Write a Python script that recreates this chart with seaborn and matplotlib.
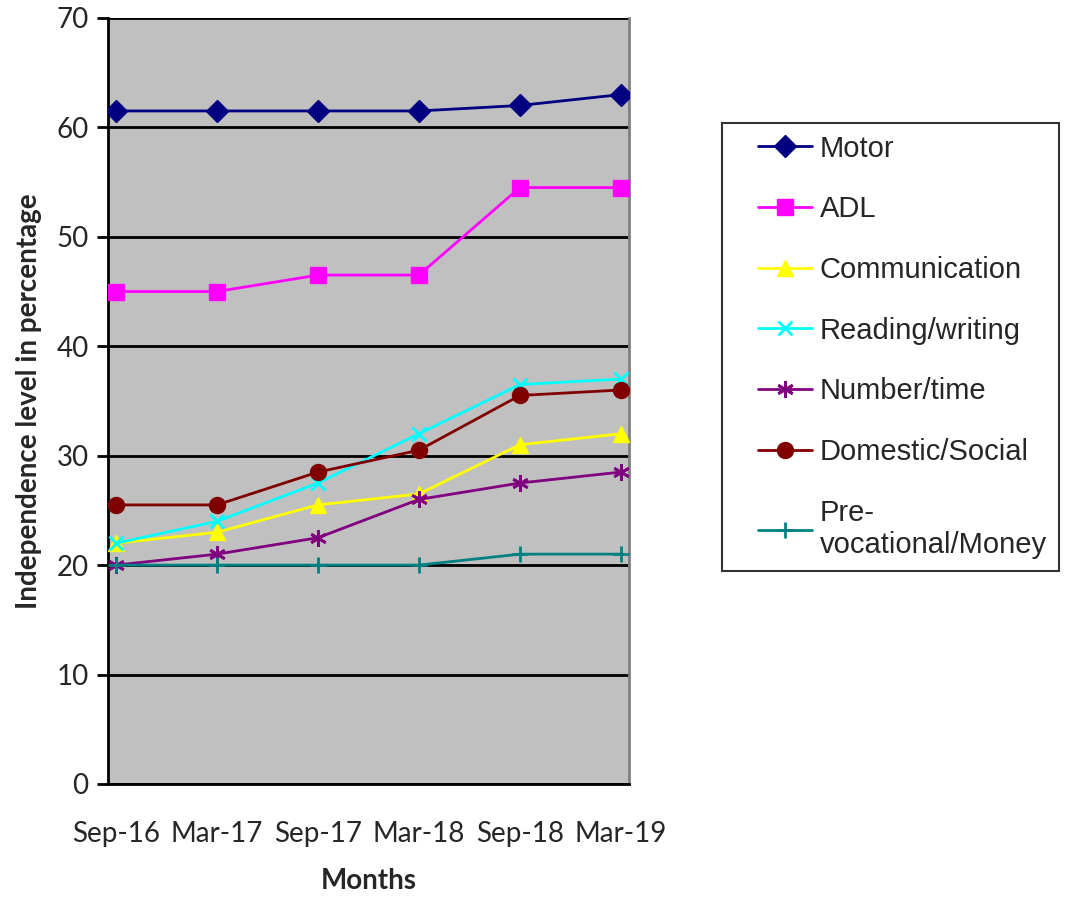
import numpy as np
import pandas as pd
import matplotlib
matplotlib.use("Agg")
import matplotlib.pyplot as plt
from matplotlib.lines import Line2D
from matplotlib.legend_handler import HandlerLine2D
import seaborn as sns

months = ["Sep-16", "Mar-17", "Sep-17", "Mar-18", "Sep-18", "Mar-19"]
motor = [61.5, 61.5, 61.5, 61.5, 62, 63]
adl = [45, 45, 46.5, 46.5, 54.5, 54.5]
communication = [22, 23, 25.5, 26.5, 31, 32]
reading = [22, 24, 27.5, 32, 36.5, 37]
number = [20, 21, 22.5, 26, 27.5, 28.5]
domestic = [25.5, 25.5, 28.5, 30.5, 35.5, 36]
prevoc = [20, 20, 20, 20, 21, 21]

names = ["Motor", "ADL", "Communication", "Reading/writing", "Number/time",
         "Domestic/Social", "Pre-\nvocational/Money"]
series = [motor, adl, communication, reading, number, domestic, prevoc]
colors = ["#000080", "#FF00FF", "#FFFF00", "#00FFFF", "#800080", "#800000", "#008080"]
marks = ["D", "s", "^", "x", (6, 2, 0), "o", "+"]
msizes = [11, 11, 12, 10, 12, 11.5, 12]

rows = []
for nm, vals in zip(names, series):
    for i, v in enumerate(vals):
        rows.append({"month": i, "series": nm, "value": v})
df = pd.DataFrame(rows)

sns.set_style("white")
plt.rcParams["font.family"] = ["Lato", "DejaVu Sans"]

fig = plt.figure(figsize=(10.72, 9.01), dpi=100)
ax = fig.add_axes([0.1007, 0.1299, 0.486, 0.8502])
ax.set_facecolor("#C0C0C0")

for nm, c, m, ms in zip(names, colors, marks, msizes):
    sub = df[df["series"] == nm]
    thin = m in ("x", "+", (6, 2, 0))
    sns.lineplot(data=sub, x="month", y="value", color=c, marker=m,
                 markersize=ms, markeredgecolor=c, markeredgewidth=2 if thin else 1,
                 linewidth=2, label=nm, ax=ax, zorder=3)

ax.set_xlim(-0.08, 5.08)
ax.set_ylim(0, 70)
ax.set_yticks(np.arange(0, 71, 10))
ax.yaxis.grid(True, color="black", linewidth=2)
ax.set_axisbelow(True)
ax.set_xticks(range(6))
ax.set_xticklabels(months)
ax.set_xticks(np.arange(6) - 0.08, minor=True)
ax.tick_params(axis="x", which="major", length=0, pad=27, labelsize=20)
ax.tick_params(axis="x", which="minor", length=8, width=2, color="black", direction="out")
ax.tick_params(axis="y", length=8, width=2, color="black", direction="out", labelsize=20, left=True, pad=6)
for s in ["left", "bottom"]:
    ax.spines[s].set_color("black")
    ax.spines[s].set_linewidth(2)
ax.spines["top"].set_visible(False)
ax.spines["right"].set_color("#808080")
ax.spines["right"].set_linewidth(2)

ax.set_xlabel("Months", fontsize=20, fontweight="bold", labelpad=15)
ax.set_ylabel("Independence level in percentage", fontsize=20, fontweight="bold", labelpad=10)

leg = ax.legend(loc="upper left", bbox_to_anchor=(722 / 1072, 1 - 123 / 901),
                bbox_transform=fig.transFigure, frameon=True, fancybox=False,
                edgecolor="black", prop={"family": "Liberation Sans", "size": 21},
                handlelength=2.7, labelspacing=1.12, borderpad=0.4, handletextpad=0.25,
                borderaxespad=0, handler_map={Line2D: HandlerLine2D(xpad=0.85)})
leg.get_frame().set_linewidth(1.5)

fig.savefig("out.png", dpi=100)
